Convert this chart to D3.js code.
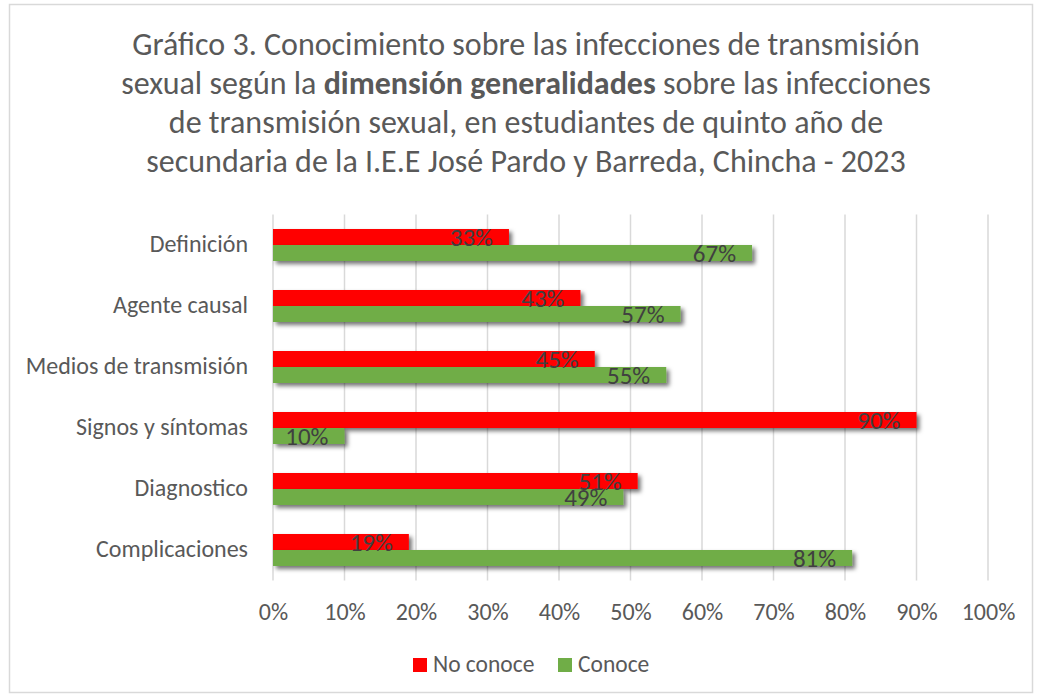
<!DOCTYPE html>
<html><head><meta charset="utf-8">
<script src="https://cdn.jsdelivr.net/npm/d3@7"></script>
<style>body{margin:0;background:#fff}svg{display:block}text{font-family:Carlito,Lato,sans-serif}</style>
</head><body>
<svg id="c" width="1040" height="697"></svg>
<script>
const categories = ["Definición","Agente causal","Medios de transmisión","Signos y síntomas","Diagnostico","Complicaciones"];
const seriesNames = ["No conoce","Conoce"];
const noConoce = [33,43,45,90,51,19];
const conoce = [67,57,55,10,49,81];
const tickValues = [0,10,20,30,40,50,60,70,80,90,100];
const colors = ["#ff0000","#70ad47"];

const svg = d3.select("#c");
const defs = svg.append("defs");
const f = defs.append("filter").attr("id","sh").attr("x","-10%").attr("y","-50%").attr("width","130%").attr("height","250%");
f.append("feDropShadow").attr("dx",3).attr("dy",3).attr("stdDeviation",2).attr("flood-color","#000").attr("flood-opacity",0.55);

svg.append("rect").attr("x",9.5).attr("y",4.5).attr("width",1023).attr("height",688).attr("fill","#fff").attr("stroke","#d9d9d9").attr("stroke-width",1.5);

// title
const titleLines = [
  [["Gráfico 3. Conocimiento sobre las infecciones de transmisión",false]],
  [["sexual según la ",false],["dimensión generalidades",true],[" sobre las infecciones",false]],
  [["de transmisión sexual, en estudiantes de quinto año de",false]],
  [["secundaria de la I.E.E José Pardo y Barreda, Chincha - 2023",false]]
];
const titleY = [55,94,133,172];
const title = svg.append("g");
titleLines.forEach((parts,i)=>{
  const t = title.append("text").attr("x",526).attr("y",titleY[i]).attr("text-anchor","middle")
    .attr("fill","#595959").style("font-size","32px");
  parts.forEach(p=>t.append("tspan").text(p[0]).attr("font-weight",p[1]?"bold":"normal"));
});

const x = d3.scaleLinear().domain([0,100]).range([273,988]);
const y0 = d3.scaleBand().domain(categories).range([214.5,580.5]);
const y1 = d3.scaleBand().domain(seriesNames).range([(y0.bandwidth()-32)/2,(y0.bandwidth()+32)/2]);

// grid
svg.append("g").selectAll("line").data(tickValues).join("line")
  .attr("x1",d=>x(d)).attr("x2",d=>x(d)).attr("y1",214.5).attr("y2",580.5)
  .attr("stroke","#d9d9d9").attr("stroke-width",1.5);

// x tick labels
const xAxis = d3.axisBottom(x).tickValues(tickValues).tickFormat(d=>d+"%").tickSize(0).tickPadding(0);
const gx = svg.append("g").attr("transform","translate(0,620)").call(xAxis);
gx.select(".domain").remove();
gx.selectAll("text").attr("fill","#595959").style("font-size","24px").attr("dy","0");

// y labels
const yAxis = d3.axisLeft(y0).tickSize(0).tickPadding(0);
const gy = svg.append("g").attr("transform","translate(248,0)").call(yAxis);
gy.select(".domain").remove();
gy.selectAll("text").attr("fill","#595959").style("font-size","24px").attr("dy","0").attr("y",7);

const data = categories.map((c,i)=>({cat:c, vals:[{s:seriesNames[0],v:noConoce[i]},{s:seriesNames[1],v:conoce[i]}]}));
const groups = svg.append("g").selectAll("g").data(data).join("g").attr("transform",d=>`translate(0,${y0(d.cat)})`);
groups.selectAll("rect").data(d=>d.vals).join("rect")
  .attr("x",x(0)).attr("y",d=>y1(d.s)).attr("width",d=>x(d.v)-x(0)).attr("height",y1.bandwidth())
  .attr("fill",(d,i)=>colors[i]).attr("filter","url(#sh)");
groups.selectAll("text").data(d=>d.vals).join("text")
  .attr("x",d=>x(d.v)-16).attr("y",d=>y1(d.s)+y1.bandwidth()/2+9)
  .attr("text-anchor","end").attr("fill","#404040").style("font-size","25px").text(d=>d.v+"%");

// legend
const leg = svg.append("g");
const legX = [413,558];
seriesNames.forEach((s,i)=>{
  leg.append("rect").attr("x",legX[i]).attr("y",658).attr("width",14).attr("height",14).attr("fill",colors[i]);
  leg.append("text").attr("x",legX[i]+20).attr("y",672).attr("fill","#595959").style("font-size","23.5px").text(s);
});
</script>
</body></html>
